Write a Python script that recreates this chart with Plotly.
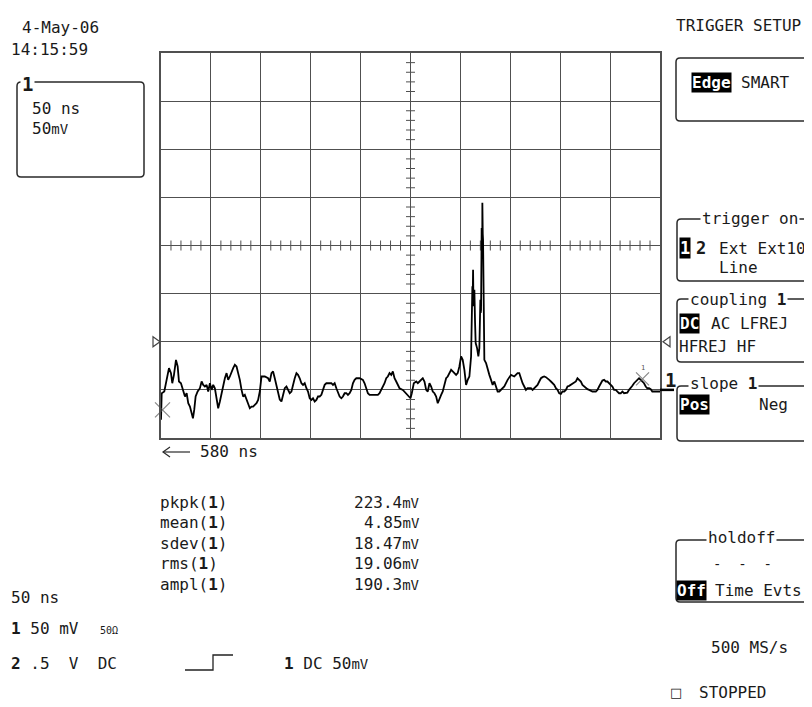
import plotly.graph_objects as go

# page is rendered with the browser's default 8px body margin: compensate
OX, OY = 8, 8
PW, PH = 812, 707
W, H = PW - OX, PH - OY
# graticule extent on the page (pixels)
GX0, GX1, GY0, GY1 = 161, 660, 53, 438

# ---- data: channel 1 trace (time in ns relative to trigger, amplitude in mV) ----
time_ns = [-250, -249.3, -246.7, -244.3, -242, -240, -238.7, -237, -235, -233.3, -232, -230,
           -227.7, -226, -224.3, -222.7, -221, -219.3, -218, -216.7, -215.3, -213.3, -211,
           -209.3, -207.7, -206, -204.3, -202.7, -201, -199.3, -197.7, -196, -194.3, -192.7,
           -191, -189.3, -187.7, -186, -184.3, -182.7, -181, -179.3, -177.7, -176, -174.3,
           -172.7, -171, -169.3, -167.7, -166, -164.3, -162.7, -161, -159.3, -157.7, -156,
           -154.3, -152.7, -151, -149.3, -146, -142.7, -141, -139.3, -137.7, -136, -134.3,
           -132.7, -131, -129.3, -127.7, -126, -124.3, -122.7, -121, -119.3, -117.7, -116,
           -114.3, -112.7, -111, -109.3, -107.7, -106, -104.3, -102.7, -101, -99.3, -97.7,
           -96, -94.3, -92.7, -91, -89.3, -87.7, -86, -84.3, -81, -79.3, -77.7, -76, -74.3,
           -72.7, -71, -69.3, -67.7, -66, -64.3, -62.7, -61, -59.3, -57.7, -56, -54.3, -51,
           -47.7, -46, -44.3, -42.7, -41, -36, -32.7, -31, -29.3, -27.7, -26, -24.3, -22.7,
           -21, -19.3, -17.7, -16, -14.3, -12.7, -11, -7.7, -6, -2.7, 0, 1.3, 3.3, 5.7, 7.3,
           9, 10.7, 12.3, 14, 15.7, 17.3, 19, 20.7, 22.3, 24, 25.7, 27.3, 29, 30.7, 32.3, 34,
           35.7, 37.3, 39, 40.7, 42.3, 44, 45.7, 47.3, 49, 50.7, 52.3, 54, 55.7, 57.3, 59,
           60.7, 61.3, 61.6, 62, 62.3, 62.7, 63, 63.3, 64, 64.7, 65.3, 66.7, 68, 69, 70, 70.3,
           70.7, 71.1, 71.3, 71.5, 71.7, 71.9, 72, 72.2, 72.4, 72.7, 73.3, 74, 75.7, 77.3, 79,
           80.7, 82.3, 84, 85.7, 87.3, 89, 90.7, 94, 97.3, 100.7,
           104, 107.3, 109, 110.7, 112.3, 114, 115.7, 117.3, 120.7, 122.3, 124, 125.7, 127.3,
           129, 130.7, 132.3, 134, 135.7, 137.3, 139, 140.7, 142.3, 144, 145.7, 147.3, 149,
           150.7, 152.3, 154, 155.7, 157.3, 159, 160.7, 162.3, 164, 165.7, 167.3, 169, 170.7,
           172.3, 174, 175.7, 177.3, 179, 180.7, 182.3, 185.7, 187.3, 189, 190.7, 192.3, 194,
           195.7, 197.3, 199, 200.7, 202.3, 204, 205.7, 207.3, 209, 210.7, 212.3, 214, 215.7,
           217.3, 219, 220.7, 222.3, 224, 225.7, 227.3, 229, 230.7, 232.3, 234, 235.7, 237.3,
           239, 240.7, 242.3, 245.7, 249, 250]
volt_mv = [-31, -3.5, -1.7, 10.4, 22.6, 17.4, 6.9, 15.6, 31.2, 24.3, 8.7, 6.9,
           0, -6.9, -3.5, -13.9, -17.4, -26, -29.5, -20.8, -6.9, -1.7, 1.7,
           8.7, 5.2, 3.5, 5.2, -1.7, 6.9, 0, 5.2, 1.7, -8.7, -19.1,
           -12.1, -3.5, 3.5, 12.1, 17.4, 10.4, 13.9, 19.1, 22.6, 26, 24.3,
           17.4, 10.4, 0, -6.9, -5.2, -10.4, -13.9, -19.1, -17.4, -17.4, -15.6,
           -13.9, -10.4, -1.7, 13.9, 13.9, 12.1, 8.7, 17.4, 19.1, 12.1, 5.2,
           0, -10, -12.1, -3.5, 1.7, 3.5, 0, -3.5, -1.7, 6.9, 12.1,
           17.4, 15.6, 12.1, 6.9, 5.2, 6.9, 1.7, -1.7, -8.7, -10.4, -8.7,
           -12.1, -10.4, -6.9, -6.9, -5.2, 0, 5.2, 6.9, 6.9, 6.9, 5.2, 6.9, 1.7,
           -1.7, -6.9, -8.7, -6.9, -3.5, -3.5, -5.2, -3.5, 0, 6.9, 10.4, 12.1, 12.1,
           10.4, 6.9, 1.7, -3.5, -5.2, -5.2, -5.2, -3.5, 0, 3.5, 6.9, 12.1, 13.9,
           17.4, 15.6, 19.1, 12.1, 8.7, 5.2, 1.7, 0, -1.7, -5.2, -8.7, -3.5, 6.9, 8.7, 6.9,
           8.7, 10.4, 12.1, 8.7, 0, -1.7, 6.9, 3.5, -1.7, -3.5, -6.9, -13.9, -8.7, -5.2, -1.7, 5.2,
           12.1, 13.9, 17.4, 20.8, 19.1, 17.4, 15.6, 17.4, 24.3, 34.7, 31.2, 20.8, 5.2, 10.4, 13.9,
           34.7, 76.3, 96, 107.6, 92, 124.9, 98, 86.8, 104.1, 69.4, 48.6, 43.4, 34.7, 43.4, 93.7, 80,
           83.3, 140, 168.3, 142, 165, 145, 194.3, 150, 162, 156.2, 104.1, 31.2, 27.8, 20.8, 15.6,
           10.4, 5.2, 8.7, 3.5, -1.7, -1.7, 0, 3.5, 10.4, 15.6,
           13.9, 17.4, 17.4, 10.4, 6.9, 3.5, 0, 1.7, 1.7, 0, 1.7, 3.5, 5.2,
           8.7, 12.1, 13.2, 13.9, 13.2, 12.1, 10.4, 8.7, 6.9, 5.2, 1.7, 0, -3.5,
           -4.2, -1.7, -1.7, 0, 3.5, 4.2, 5.2, 6.9, 7.6, 8.7, 12.1, 10.4, 8.7,
           5.2, 3.5, 1.7, 0.7, 0, -0.7, -1.7, -1.7, 0, 3.5, 6.9, 9.7, 10.4,
           8.7, 8.7, 6.9, 5.2, 3.5, 0, 0, -1.7, -3.5, -3.5, -1.7, -3.5, -3.5,
           -2.8, 0, 1.7, 4.2, 6.9, 8.7, 10.4, 12.1, 10.4, 8.7, 6.9, 3.5, 1.7,
           1.7, 0.7, -1.7, -1.7, -1.7, -1.7]

# cursor positions (ns, mV) and trigger level (mV)
cursor_ns = [-248.5, 232.5]
cursor_mv = [-20.8, 11.5]
trigger_level_mv = 50

# scope settings
T_RANGE = [-250, 250]   # 50 ns/div, 10 div
V_RANGE = [-50, 350]    # 50 mV/div, 8 div
T_DIV, V_DIV = 50, 50

meas_names = ["pkpk", "mean", "sdev", "rms", "ampl"]
meas_values = ["223.4", "4.85", "18.47", "19.06", "190.3"]

MONO = "DejaVu Sans Mono"
INK = "#1a1a1a"
GRID = "#505050"

NS_PER_PX = (T_RANGE[1] - T_RANGE[0]) / (GX1 - GX0)
MV_PER_PX = (V_RANGE[1] - V_RANGE[0]) / (GY1 - GY0)


def fx(x):
    return (x - OX) / W


def fy(y):
    return 1 - (y - OY) / H


fig = go.Figure()

# centre-axis minor ticks (5 per division)
tx, ty = [], []
t_mid = (T_RANGE[0] + T_RANGE[1]) / 2
v_mid = (V_RANGE[0] + V_RANGE[1]) / 2
step_t, step_v = T_DIV / 5, V_DIV / 5
n_t = int(round((T_RANGE[1] - T_RANGE[0]) / step_t))
n_v = int(round((V_RANGE[1] - V_RANGE[0]) / step_v))
for k in range(1, n_t):
    if k % 5:
        t = T_RANGE[0] + k * step_t
        tx += [t, t, None]
        ty += [v_mid - 5 * MV_PER_PX, v_mid + 5 * MV_PER_PX, None]
for k in range(1, n_v):
    if k % 5:
        v = V_RANGE[0] + k * step_v
        tx += [t_mid - 4.5 * NS_PER_PX, t_mid + 4.5 * NS_PER_PX, None]
        ty += [v, v, None]
fig.add_trace(go.Scatter(x=tx, y=ty, mode="lines", line=dict(color=GRID, width=1),
                         hoverinfo="skip"))

# waveform
fig.add_trace(go.Scatter(x=time_ns, y=volt_mv, mode="lines",
                         line=dict(color="#000000", width=1.8), hoverinfo="skip"))

# cursors
fig.add_trace(go.Scatter(x=cursor_ns, y=cursor_mv, mode="markers",
                         marker=dict(symbol="x-thin-open", size=[15, 13], color="#555555",
                                     line=dict(color="#555555", width=1.2)),
                         cliponaxis=False, hoverinfo="skip"))

fig.update_layout(
    width=W, height=H, margin=dict(l=0, r=0, t=0, b=0),
    paper_bgcolor="white", plot_bgcolor="white", showlegend=False,
    xaxis=dict(domain=[fx(GX0), fx(GX1)], range=T_RANGE, dtick=T_DIV, tick0=0,
               showgrid=True, gridcolor=GRID, gridwidth=1, zeroline=False,
               showline=True, mirror=True, linecolor=GRID, linewidth=1.5,
               showticklabels=False, ticks=""),
    yaxis=dict(domain=[fy(GY1), fy(GY0)], range=V_RANGE, dtick=V_DIV, tick0=0,
               showgrid=True, gridcolor=GRID, gridwidth=1, zeroline=False,
               showline=True, mirror=True, linecolor=GRID, linewidth=1.5,
               showticklabels=False, ticks=""),
)

shapes = []
ann = []


def label(x, y, text, size=16, xanchor="left", color=INK, bg=None, family=MONO, pad=0):
    d = dict(x=fx(x), y=fy(y), xref="paper", yref="paper", text=text, showarrow=False,
             xanchor=xanchor, yanchor="middle", borderpad=pad,
             font=dict(family=family, size=size, color=color))
    if bg:
        d["bgcolor"] = bg
    ann.append(d)


def rbox(L, T, R, B, r=4):
    p = (f"M{fx(L + r)},{fy(T)} L{fx(R - r)},{fy(T)} Q{fx(R)},{fy(T)} {fx(R)},{fy(T + r)} "
         f"L{fx(R)},{fy(B - r)} Q{fx(R)},{fy(B)} {fx(R - r)},{fy(B)} L{fx(L + r)},{fy(B)} "
         f"Q{fx(L)},{fy(B)} {fx(L)},{fy(B - r)} L{fx(L)},{fy(T + r)} Q{fx(L)},{fy(T)} {fx(L + r)},{fy(T)} Z")
    shapes.append(dict(type="path", path=p, xref="paper", yref="paper",
                       line=dict(color="#2a2a2a", width=1.5)))


def pline(pts, width=1.5, color="#2a2a2a"):
    p = "M" + " L".join(f"{fx(a)},{fy(b)}" for a, b in pts)
    shapes.append(dict(type="path", path=p, xref="paper", yref="paper",
                       line=dict(color=color, width=width)))


# trigger level arrows just outside the graticule (x in paper, y on the volt axis)
dv = 5 * MV_PER_PX
for xa, xb in ((153, 160), (670, 663)):
    p = (f"M{fx(xa)},{trigger_level_mv + dv} L{fx(xb)},{trigger_level_mv} "
         f"L{fx(xa)},{trigger_level_mv - dv} Z")
    shapes.append(dict(type="path", path=p, xref="paper", yref="y",
                       line=dict(color="#444444", width=1.2)))

B1 = "<b>1</b>"


def small(s, sz=14):
    return f'<span style="font-size:{sz}px">{s}</span>'


# ---- top-left info ----
label(21, 27, "4-May-06")
label(10, 49, "14:15:59")
rbox(17, 82, 144, 177)
label(20, 84, B1, size=19, bg="white", pad=1)
label(31, 108, "50 ns")
label(31, 129, "50" + small("mV"))

# ---- trigger panel ----
label(675, 25, "TRIGGER SETUP")
rbox(676, 58, 830, 121)
label(691, 83, "<b>Edge</b>", color="white", bg="black", pad=0)
label(740, 83, "SMART")

rbox(677, 219, 830, 281)
label(700, 218, "trigger on", bg="white", pad=1)
label(679, 248, "<b>1</b>", size=17, color="white", bg="black", pad=0)
label(695, 248, "<b>2</b>", size=17)
label(718, 248, "Ext Ext10")
label(718, 267, "Line")

rbox(677, 299, 830, 362)
label(688, 299, "coupling " + B1, bg="white", pad=1)
label(679, 323, "<b>DC</b>", color="white", bg="black", pad=0)
label(710, 323, "AC LFREJ")
label(678, 346, "HFREJ HF")

rbox(677, 386, 830, 441)
label(688, 383, "slope " + B1, bg="white", pad=1)
label(679, 404, "<b>Pos</b>", color="white", bg="black", pad=0)
label(758, 404, "Neg")

rbox(676, 540, 830, 602)
label(706, 537, "holdoff", bg="white", pad=1)
label(712, 564, "-  -  -", size=14)
label(676, 590, "<b>Off</b>", color="white", bg="black", pad=0)
label(714, 590, "Time Evts")

label(710, 647, "500 MS/s")
label(669, 692, "\u25a1", size=13, family="DejaVu Sans")
label(698, 692, "STOPPED")

# ---- channel marker on right edge (ground level) ----
shapes.append(dict(type="line", xref="paper", yref="y", x0=fx(GX1), x1=fx(674),
                   y0=0, y1=0, line=dict(color="#000000", width=2.5)))
label(664, 380, B1, size=19)
label(640, 368, "1", size=7, color="#555555")

# ---- time offset arrow ----
pline([(163, 452), (190, 452)], width=1.2)
pline([(170, 447), (163, 452), (170, 457)], width=1.2)
label(199, 452, "580 ns")

# ---- measurements ----
for i, (n, v) in enumerate(zip(meas_names, meas_values)):
    y = 502 + i * 20.6
    label(159, y, f"{n}({B1})")
    label(421, y, v + small("mV"), xanchor="right")

# ---- bottom-left channel info ----
label(10, 597, "50 ns")
label(10, 628, B1 + " 50 mV", size=16)
label(99, 630, "50\u03a9", size=10)
label(10, 663, "<b>2</b> .5  V  DC")
pline([(185, 670), (213, 670), (213, 655), (233, 655)], width=1.3, color="#222222")
label(283, 663, B1 + " DC 50" + small("mV"))

fig.update_layout(shapes=shapes, annotations=ann)
fig.write_html("out.html")
